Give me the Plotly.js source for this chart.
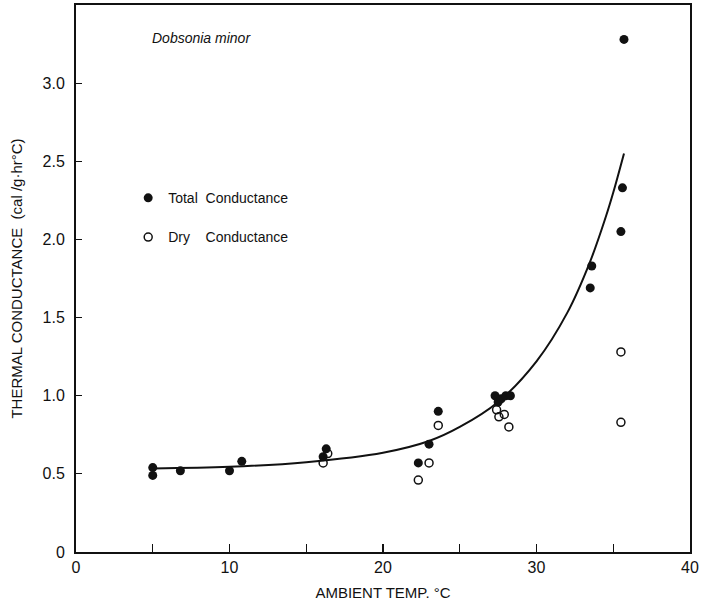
<!DOCTYPE html>
<html>
<head>
<meta charset="utf-8">
<script src="https://cdn.plot.ly/plotly-3.0.1.min.js"></script>
<style>html,body{margin:0;padding:0;background:#fff;}#chart{width:702px;height:605px;}</style>
</head>
<body>
<div id="chart"></div>
<script>
// Total conductance (filled circles)
const totalTemp = [5, 5, 6.8, 10, 10.8, 16.1, 16.3, 22.3, 23.0, 23.6, 27.3, 27.5, 27.7, 28.0, 28.3, 33.5, 33.6, 35.5, 35.6, 35.7];
const totalCond = [0.54, 0.49, 0.52, 0.52, 0.58, 0.61, 0.66, 0.57, 0.69, 0.90, 1.00, 0.96, 0.98, 1.00, 1.00, 1.69, 1.83, 2.05, 2.33, 3.28];
// Dry conductance (open circles)
const dryTemp = [16.1, 16.4, 22.3, 23.0, 23.6, 27.4, 27.55, 27.9, 28.2, 35.5, 35.5];
const dryCond = [0.57, 0.63, 0.46, 0.57, 0.81, 0.91, 0.865, 0.88, 0.80, 1.28, 0.83];
// Fitted curve
const curveTemp = [5, 10, 15, 20, 23, 25, 27.5, 30, 32, 33.5, 34.5, 35, 35.7];
const curveCond = [0.535, 0.545, 0.575, 0.635, 0.71, 0.80, 0.96, 1.22, 1.53, 1.86, 2.14, 2.30, 2.55];
// Tick labels
const xTickVals = [0, 5, 10, 15, 20, 25, 30, 35, 40];
const xTickText = ["0", "", "10", "", "20", "", "30", "", "40"];
const yTickVals = [0, 0.5, 1.0, 1.5, 2.0, 2.5, 3.0];
const yTickText = ["0", "0.5", "1.0", "1.5", "2.0", "2.5", "3.0"];

const FONT = "Liberation Sans, Arial, sans-serif";

const traces = [
  {x: curveTemp, y: curveCond, mode: "lines", line: {color: "#111", width: 2, shape: "spline", smoothing: 1}, showlegend: false, hoverinfo: "skip"},
  {x: totalTemp, y: totalCond, mode: "markers", name: "Total  Conductance", legendgroup: "a",
   marker: {symbol: "circle", size: 9, color: "#111", line: {width: 0}}},
  {x: dryTemp, y: dryCond, mode: "markers", name: "Dry    Conductance", legendgroup: "b",
   marker: {symbol: "circle-open", size: 8, color: "#111", line: {width: 1.5, color: "#111"}}}
];

const layout = {
  width: 702, height: 605,
  margin: {l: 76, r: 12, t: 5, b: 53},
  paper_bgcolor: "#fff", plot_bgcolor: "#fff",
  font: {family: FONT, color: "#111", size: 15},
  showlegend: true,
  legend: {x: 0.085, y: 0.676, xanchor: "left", yanchor: "top", bgcolor: "rgba(0,0,0,0)",
           font: {size: 14, family: FONT}, tracegroupgap: 18, traceorder: "grouped", itemwidth: 30},
  xaxis: {range: [0, 40], tickvals: xTickVals, ticktext: xTickText, ticks: "inside", ticklen: 8, tickwidth: 1.2,
          tickcolor: "#111", showline: true, linecolor: "#111", linewidth: 2, mirror: true, showgrid: false, zeroline: false,
          tickfont: {size: 16}, title: {text: "AMBIENT TEMP. °C", font: {size: 15}, standoff: 12}},
  yaxis: {range: [0, 3.5], tickvals: yTickVals, ticktext: yTickText, ticks: "inside", ticklen: 6, tickwidth: 1.2,
          tickcolor: "#111", showline: true, linecolor: "#111", linewidth: 2, mirror: true, showgrid: false, zeroline: false,
          tickfont: {size: 16}, ticklabelstandoff: 6,
          title: {text: "THERMAL CONDUCTANCE  (cal /g·hr°C)", font: {size: 15}, standoff: 16}},
  annotations: [
    {xref: "paper", yref: "paper", x: 0.12, y: 0.94, xanchor: "left", yanchor: "middle", showarrow: false,
     text: "<i>Dobsonia minor</i>", font: {size: 14, family: FONT}}
  ]
};

Plotly.newPlot("chart", traces, layout, {displayModeBar: false, staticPlot: true});
</script>
</body>
</html>
